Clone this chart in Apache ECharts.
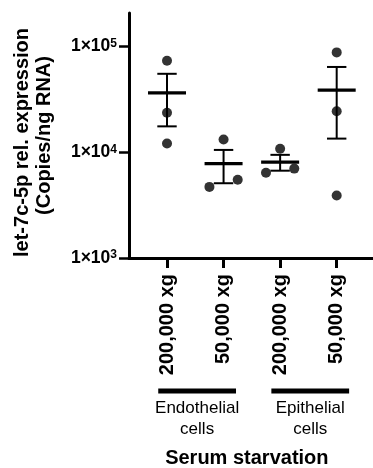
<!DOCTYPE html>
<html>
<head>
<meta charset="utf-8">
<script src="https://cdn.jsdelivr.net/npm/echarts@6/dist/echarts.min.js"></script>
<style>
  html, body { margin: 0; padding: 0; background: #fff; }
  #chart { width: 373px; height: 468px; }
</style>
</head>
<body>
<div id="chart"></div>
<script>
// let-7c-5p copies per ng RNA, three replicates per fraction
const categories = ['200,000 xg', '50,000 xg', '200,000 xg', '50,000 xg'];
const groupNames = ['Endothelial', 'Epithelial'];
const endo200k = [73300, 23600, 12100];
const endo50k = [13200, 4700, 5500];
const epi200k = [10800, 6400, 7000];
const epi50k = [87800, 24400, 3900];
const yTickValues = [1000, 10000, 100000];

const replicates = [endo200k, endo50k, epi200k, epi50k];

// horizontal spread of overlapping replicate dots (in category units)
const dotSpread = [[0, 0, 0], [0, -0.25, 0.25], [0, -0.25, 0.25], [0, 0, 0]];

const FONT = '"Liberation Sans", Arial, sans-serif';

function meanSem(arr) {
  const n = arr.length;
  const m = arr.reduce((a, b) => a + b, 0) / n;
  const sd = Math.sqrt(arr.reduce((a, b) => a + (b - m) * (b - m), 0) / (n - 1));
  return [m, sd / Math.sqrt(n)];
}

const dotData = [];
replicates.forEach((vals, i) => {
  vals.forEach((v, j) => dotData.push([i + 1 + dotSpread[i][j], v]));
});

const summaryData = replicates.map((vals, i) => {
  const [m, sem] = meanSem(vals);
  return [i + 1, m, m - sem, m + sem];
});

const chart = echarts.init(document.getElementById('chart'), null, { renderer: 'canvas' });

const titleStyle = { fontFamily: FONT, fontWeight: 'bold', fontSize: 20, lineHeight: 22, color: '#000' };

chart.setOption({
  animation: false,
  backgroundColor: '#fff',
  grid: { left: 129, right: 0, top: 13, bottom: 210, containLabel: false },
  xAxis: {
    type: 'value',
    min: 0.328,
    max: 4.642,
    splitLine: { show: false },
    axisLine: { show: true, lineStyle: { color: '#000', width: 3 } },
    axisTick: { show: true, customValues: [1, 2, 3, 4], length: 10, lineStyle: { color: '#000', width: 3 } },
    axisLabel: {
      customValues: [1, 2, 3, 4],
      rotate: 90,
      margin: 16,
      color: '#000',
      fontFamily: FONT,
      fontWeight: 'bold',
      fontSize: 20,
      formatter: v => categories[Math.round(v) - 1]
    }
  },
  yAxis: {
    type: 'log',
    logBase: 10,
    min: 1000,
    max: 207000,
    splitLine: { show: false },
    axisLine: { show: true, lineStyle: { color: '#000', width: 3 } },
    axisTick: { show: true, length: 10, lineStyle: { color: '#000', width: 2.5 } },
    minorTick: { show: false },
    axisLabel: {
      margin: 12,
      showMaxLabel: false,
      formatter: v => {
        const e = Math.log10(v);
        if (Math.abs(e - Math.round(e)) > 0.01 || !yTickValues.includes(Math.round(Math.pow(10, Math.round(e))))) return '';
        return '{b|1×10}{s|' + Math.round(e) + '}';
      },
      rich: {
        b: { fontFamily: FONT, fontWeight: 'bold', fontSize: 17.5, color: '#000' },
        s: { fontFamily: FONT, fontWeight: 'bold', fontSize: 12, color: '#000', verticalAlign: 'top' }
      }
    },
    name: '{a|let-7c-5p rel. expression}\n{b|(Copies/ng RNA)}',
    nameLocation: 'middle',
    nameRotate: 90,
    nameGap: 74,
    nameTextStyle: Object.assign({}, titleStyle, {
      rich: {
        a: Object.assign({}, titleStyle, { padding: [0, 14, 0, 0] }),
        b: Object.assign({}, titleStyle)
      }
    })
  },
  series: [
    {
      type: 'custom',
      data: summaryData,
      encode: { x: 0, y: 1 },
      z: 3,
      renderItem: (params, api) => {
        const x = api.value(0);
        const c = api.coord([x, api.value(1)]);
        const lo = api.coord([x, api.value(2)]);
        const hi = api.coord([x, api.value(3)]);
        const stroke = '#000';
        return {
          type: 'group',
          children: [
            { type: 'line', shape: { x1: c[0] - 19, y1: c[1], x2: c[0] + 19, y2: c[1] }, style: { stroke, lineWidth: 3.2 } },
            { type: 'line', shape: { x1: c[0], y1: hi[1], x2: c[0], y2: lo[1] }, style: { stroke, lineWidth: 2 } },
            { type: 'line', shape: { x1: c[0] - 9.7, y1: hi[1], x2: c[0] + 9.7, y2: hi[1] }, style: { stroke, lineWidth: 2 } },
            { type: 'line', shape: { x1: c[0] - 9.7, y1: lo[1], x2: c[0] + 9.7, y2: lo[1] }, style: { stroke, lineWidth: 2 } }
          ]
        };
      }
    },
    {
      type: 'scatter',
      data: dotData,
      symbol: 'circle',
      symbolSize: 10,
      itemStyle: { color: '#000' },
      z: 4
    }
  ]
});

// group brackets and labels under the x axis
const px = v => chart.convertToPixel({ xAxisIndex: 0 }, v);
const barY = 391;
const graphics = [];
[[1, 2], [3, 4]].forEach((pair, g) => {
  const x1 = px(pair[0] - 0.155);
  const x2 = px(pair[1] + 0.22);
  const cx = (x1 + x2) / 2;
  graphics.push({
    type: 'rect',
    shape: { x: x1, y: barY - 2.5, width: x2 - x1, height: 5 },
    style: { fill: '#000' }
  });
  graphics.push({
    type: 'text',
    style: { text: groupNames[g], x: cx, y: 408, align: 'center', verticalAlign: 'middle',
      fontFamily: FONT, fontSize: 17, fill: '#000' }
  });
  graphics.push({
    type: 'text',
    style: { text: 'cells', x: cx, y: 429, align: 'center', verticalAlign: 'middle',
      fontFamily: FONT, fontSize: 17, fill: '#000' }
  });
});
graphics.push({
  type: 'text',
  style: { text: 'Serum starvation', x: (px(1) + px(4)) / 2 - 5, y: 458, align: 'center', verticalAlign: 'middle',
    fontFamily: FONT, fontWeight: 'bold', fontSize: 20, fill: '#000' }
});
chart.setOption({ graphic: graphics });
</script>
</body>
</html>
